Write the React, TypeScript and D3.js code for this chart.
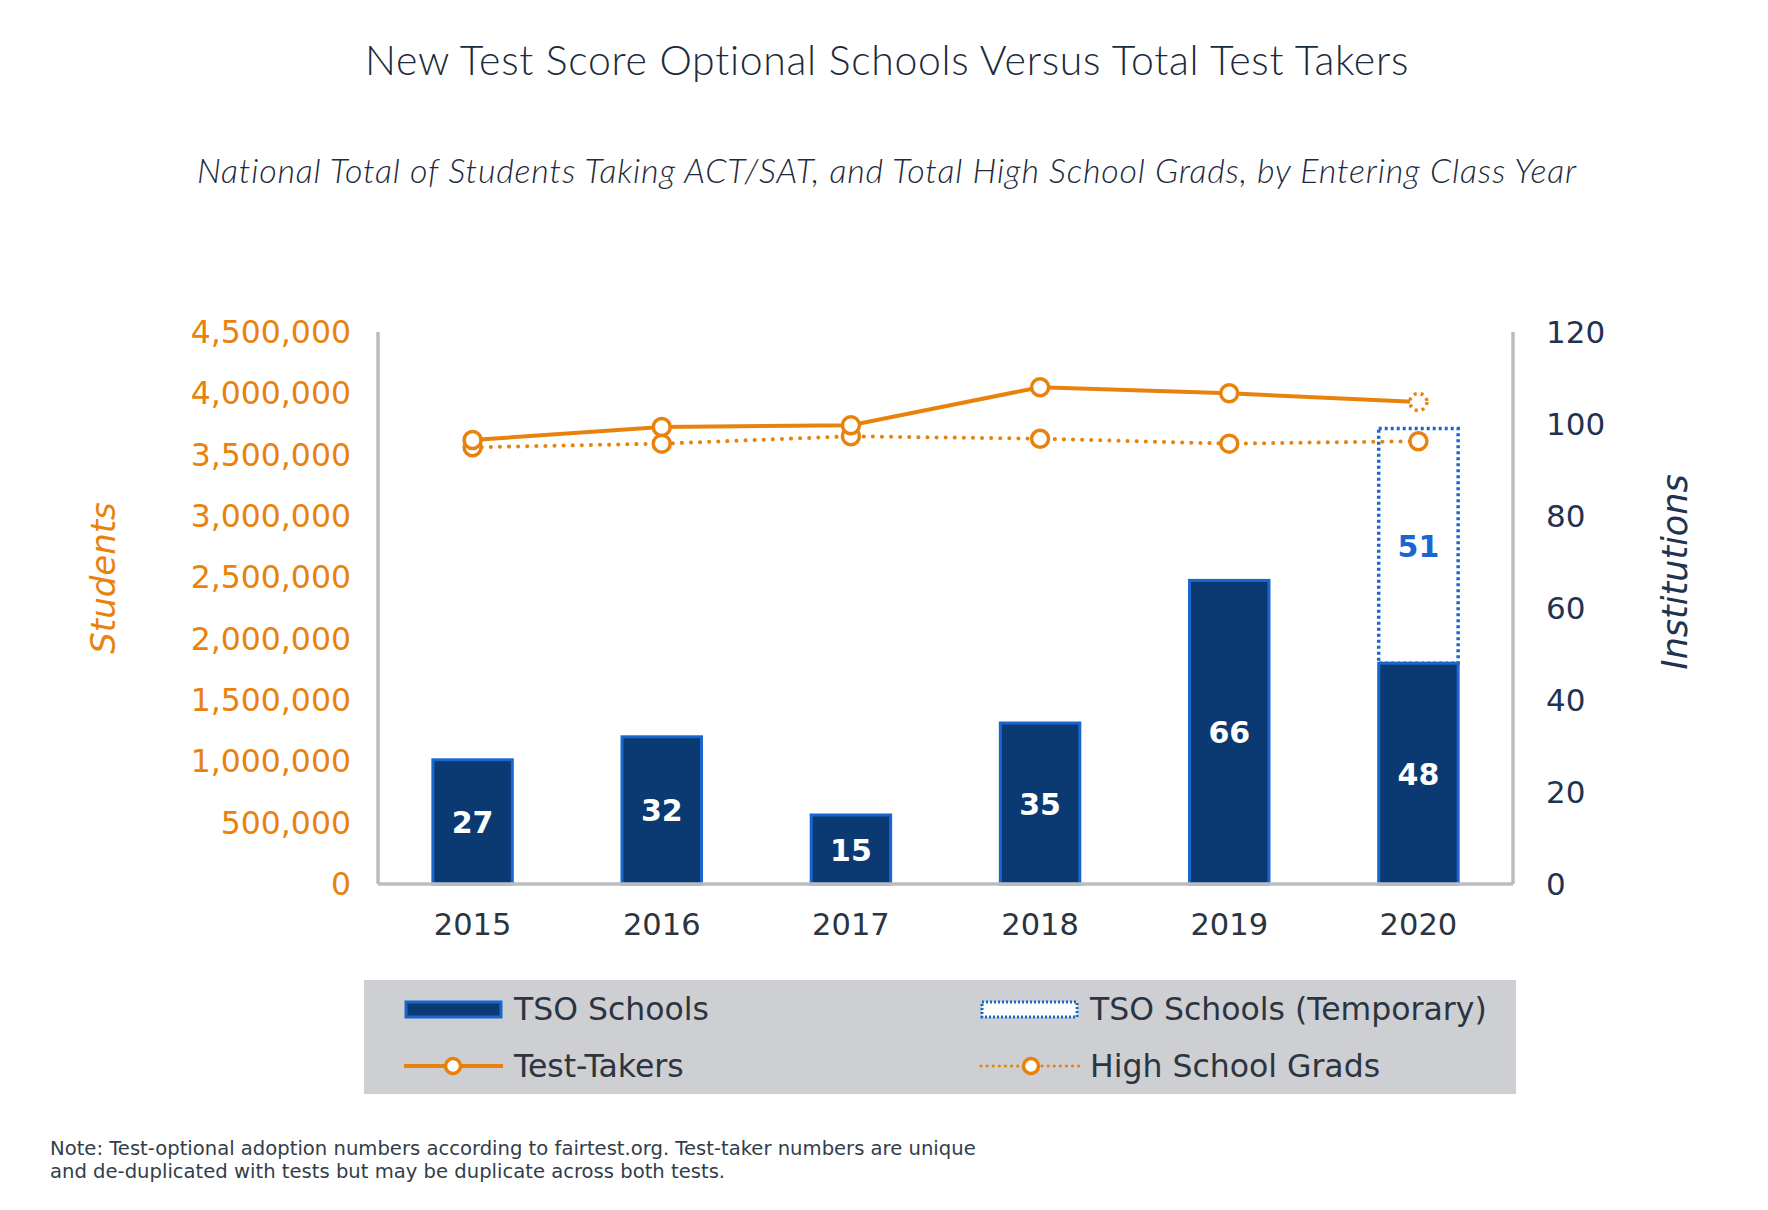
import * as d3 from "d3";

const years = ["2015", "2016", "2017", "2018", "2019", "2020"];
const tsoSchools = [27, 32, 15, 35, 66, 48];
const tsoTemporary = [0, 0, 0, 0, 0, 51];
const testTakers = [3620000, 3725000, 3740000, 4050000, 4000000, 3930000];
const hsGrads = [3560000, 3590000, 3650000, 3630000, 3590000, 3610000];
const studentTicks = [0, 500000, 1000000, 1500000, 2000000, 2500000, 3000000, 3500000, 4000000, 4500000];
const institutionTicks = [0, 20, 40, 60, 80, 100, 120];

const ORANGE = "#e8820c";
const NAVY = "#0b3a73";
const BLUE = "#1a66d0";
const DARK = "#1f3352";
const TEXT = "#2b3440";
const AXIS = "#b9bdc2";
const FONT = "Verdana, 'DejaVu Sans', sans-serif";
const TITLE_FONT = "Lato, 'Open Sans', sans-serif";

export default function App() {
  const width = 1768;
  const height = 1210;
  const plot = { left: 378, right: 1513, top: 332, bottom: 884 };

  const x = d3.scaleBand().domain(years).range([plot.left, plot.right]).paddingInner(0.58).paddingOuter(0.29);
  const yL = d3.scaleLinear().domain([0, 4500000]).range([plot.bottom, plot.top]);
  const yR = d3.scaleLinear().domain([0, 120]).range([plot.bottom, plot.top]);
  const cx = (y: string) => (x(y) || 0) + x.bandwidth() / 2;

  const line = d3
    .line<number>()
    .x((_, i) => cx(years[i]))
    .y((d) => yL(d));

  const fmt = d3.format(",");

  return (
    <svg
      width={width}
      height={height}
      style={{ position: "absolute", left: 0, top: 0, background: "#fff" }}
      fontFamily={FONT}
    >
      {/* titles */}
      <text x={887} y={75} textAnchor="middle" fontSize={41} letterSpacing={0.7} fontFamily={TITLE_FONT} fontWeight={300} fill="#1d2a3c">
        New Test Score Optional Schools Versus Total Test Takers
      </text>
      <text x={887} y={183} textAnchor="middle" fontSize={34} letterSpacing={0.8} fontStyle="italic" fontFamily={TITLE_FONT} fontWeight={300} fill="#1d2a3c">
        National Total of Students Taking ACT/SAT, and Total High School Grads, by Entering Class Year
      </text>

      {/* bars */}
      {years.map((yr, i) => {
        const bx = x(yr) || 0;
        const top = yR(tsoSchools[i]);
        const tempTop = yR(tsoSchools[i] + tsoTemporary[i]);
        return (
          <g key={yr}>
            {tsoTemporary[i] > 0 && (
              <rect
                x={bx}
                y={tempTop}
                width={x.bandwidth()}
                height={top - tempTop}
                fill="#fff"
                stroke={BLUE}
                strokeWidth={3.5}
                strokeDasharray="3 3"
              />
            )}
            <rect x={bx} y={top} width={x.bandwidth()} height={plot.bottom - top} fill={NAVY} stroke={BLUE} strokeWidth={3} />
            <text x={cx(yr)} y={(top + plot.bottom) / 2 + 11} textAnchor="middle" fontSize={30} fontWeight="bold" fill="#fff">
              {tsoSchools[i]}
            </text>
            {tsoTemporary[i] > 0 && (
              <text x={cx(yr)} y={(tempTop + top) / 2 + 11} textAnchor="middle" fontSize={30} fontWeight="bold" fill={BLUE}>
                {tsoTemporary[i]}
              </text>
            )}
          </g>
        );
      })}

      {/* axes */}
      <line x1={plot.left} x2={plot.left} y1={plot.top} y2={plot.bottom} stroke={AXIS} strokeWidth={3.5} />
      <line x1={plot.right} x2={plot.right} y1={plot.top} y2={plot.bottom} stroke={AXIS} strokeWidth={3.5} />
      <line x1={plot.left} x2={plot.right} y1={plot.bottom} y2={plot.bottom} stroke={AXIS} strokeWidth={3.5} />

      {studentTicks.map((t) => (
        <text key={t} x={351} y={yL(t) + 11} textAnchor="end" fontSize={31.5} fill={ORANGE}>
          {fmt(t)}
        </text>
      ))}
      {institutionTicks.map((t) => (
        <text key={t} x={1546} y={yR(t) + 11} textAnchor="start" fontSize={31} fill={DARK}>
          {t}
        </text>
      ))}
      {years.map((yr) => (
        <text key={yr} x={cx(yr)} y={935} textAnchor="middle" fontSize={30.5} fill={TEXT}>
          {yr}
        </text>
      ))}

      <text transform={`translate(115,578) rotate(-90)`} textAnchor="middle" fontSize={34} fontStyle="italic" fill={ORANGE}>
        Students
      </text>
      <text transform={`translate(1687,572) rotate(-90)`} textAnchor="middle" fontSize={35} fontStyle="italic" fill={DARK}>
        Institutions
      </text>

      {/* lines */}
      <path d={line(hsGrads) || ""} fill="none" stroke={ORANGE} strokeWidth={4} strokeDasharray="0.1 9" strokeLinecap="round" />
      <path d={line(testTakers) || ""} fill="none" stroke={ORANGE} strokeWidth={4} />
      {hsGrads.map((v, i) => (
        <circle key={"h" + i} cx={cx(years[i])} cy={yL(v)} r={8.5} fill="#fff" stroke={ORANGE} strokeWidth={3.5} />
      ))}
      {testTakers.map((v, i) => (
        <circle
          key={"t" + i}
          cx={cx(years[i])}
          cy={yL(v)}
          r={8.5}
          fill="#fff"
          stroke={ORANGE}
          strokeWidth={3.5}
          strokeDasharray={i === years.length - 1 ? "3 4" : undefined}
        />
      ))}

      {/* legend */}
      <rect x={364} y={980} width={1152} height={114} fill="#cdcfd2" />
      <rect x={406} y={1002} width={95} height={15} fill={NAVY} stroke={BLUE} strokeWidth={3} />
      <text x={514} y={1020} fontSize={31.5} fill={TEXT}>TSO Schools</text>
      <rect x={982} y={1002} width={95} height={15} fill="#fff" stroke={BLUE} strokeWidth={3} strokeDasharray="2 2" />
      <text x={1090} y={1020} fontSize={31.5} fill={TEXT}>TSO Schools (Temporary)</text>

      <line x1={404} x2={503} y1={1066} y2={1066} stroke={ORANGE} strokeWidth={4} />
      <circle cx={453} cy={1066} r={7.5} fill="#fff" stroke={ORANGE} strokeWidth={3.5} />
      <text x={514} y={1077} fontSize={31.5} fill={TEXT}>Test-Takers</text>
      <line x1={981} x2={1081} y1={1066} y2={1066} stroke={ORANGE} strokeWidth={3} strokeDasharray="0.1 6" strokeLinecap="round" />
      <circle cx={1031} cy={1066} r={7.5} fill="#fff" stroke={ORANGE} strokeWidth={3.5} />
      <text x={1090} y={1077} fontSize={31.5} fill={TEXT}>High School Grads</text>

      {/* note */}
      <text x={50} y={1155} fontSize={19.6} fill="#333d4a">
        Note: Test-optional adoption numbers according to fairtest.org. Test-taker numbers are unique
      </text>
      <text x={50} y={1178} fontSize={19.6} fill="#333d4a">
        and de-duplicated with tests but may be duplicate across both tests.
      </text>
    </svg>
  );
}
